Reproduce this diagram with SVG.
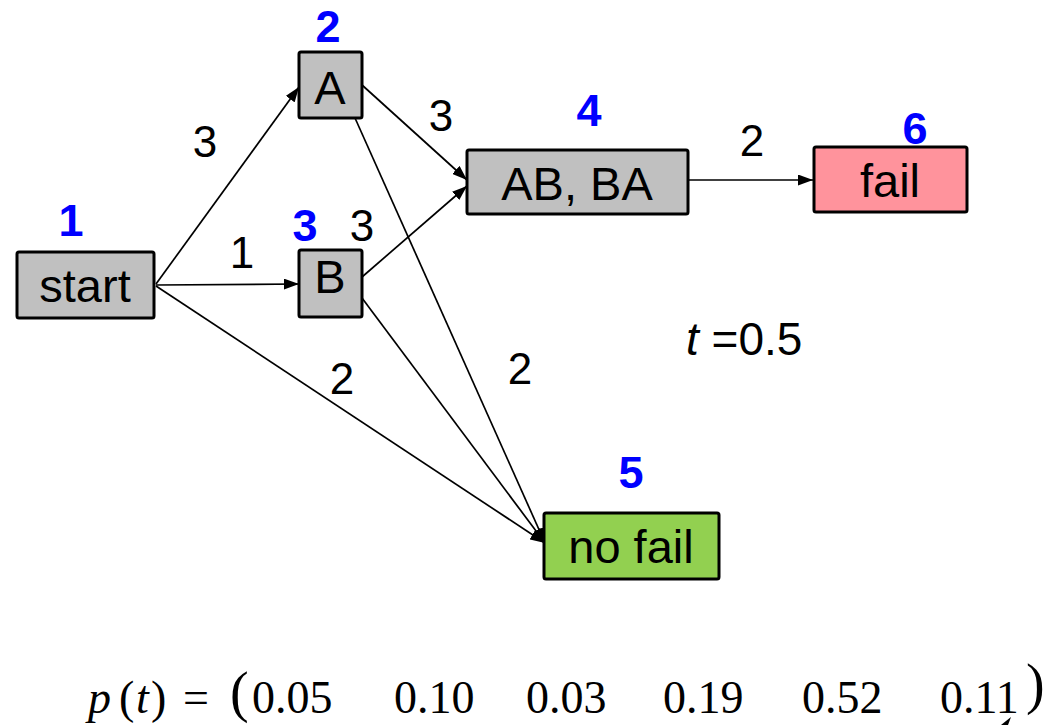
<svg xmlns="http://www.w3.org/2000/svg" width="1057" height="725" viewBox="0 0 1057 725">
  <style>
    .box { stroke: #000; stroke-width: 3; }
    .gray { fill: #c0c0c0; }
    .red { fill: #ff939c; }
    .green { fill: #92d050; }
    .lbl { font-family: "Liberation Sans", Arial, sans-serif; font-size: 47px; fill: #000; text-anchor: middle; }
    .num { font-family: "Liberation Sans", Arial, sans-serif; font-size: 45px; font-weight: bold; fill: #0000ff; text-anchor: middle; }
    .w { font-family: "Liberation Sans", Arial, sans-serif; font-size: 44px; fill: #000; text-anchor: middle; }
    .edge { stroke: #000; stroke-width: 1.7; fill: none; marker-end: url(#arrow); }
    .math { font-family: "Liberation Serif", "Times New Roman", serif; font-size: 46px; fill: #000; }
  </style>
  <defs>
    <marker id="arrow" markerUnits="userSpaceOnUse" markerWidth="15" markerHeight="11" refX="15" refY="5.5" orient="auto">
      <path d="M0,0 L15,5.5 L0,11 z" fill="#000"/>
    </marker>
  </defs>
  <rect width="1057" height="725" fill="#fff"/>

  <g id="connectors">
    <path class="edge" d="M156,284 L299,87"/>
    <path class="edge" d="M156,285 L299,284"/>
    <path class="edge" d="M156,286 L545,543"/>
    <path class="edge" d="M362,85 L467,180"/>
    <path class="edge" d="M355,118 L545,543"/>
    <path class="edge" d="M362,277 L467,186"/>
    <path class="edge" d="M362,298 L545,543"/>
    <path class="edge" d="M688,180 L813,180"/>
  </g>

  <g id="weights">
    <text class="w" x="205" y="157">3</text>
    <text class="w" x="242" y="268">1</text>
    <text class="w" x="362" y="241">3</text>
    <text class="w" x="441" y="131">3</text>
    <text class="w" x="752" y="156">2</text>
    <text class="w" x="342" y="394">2</text>
    <text class="w" x="520" y="384">2</text>
  </g>

  <g id="node-start">
    <rect class="box gray" x="17" y="252" width="137" height="66" rx="2"/>
    <text class="lbl" x="85" y="302">start</text>
    <text class="num" x="71" y="236">1</text>
  </g>
  <g id="node-A">
    <rect class="box gray" x="299" y="52" width="63" height="66" rx="2"/>
    <text class="lbl" x="330" y="104">A</text>
    <text class="num" x="328" y="42">2</text>
  </g>
  <g id="node-B">
    <rect class="box gray" x="299" y="250" width="63" height="67" rx="2"/>
    <text class="lbl" x="330" y="293">B</text>
    <text class="num" x="305" y="241">3</text>
  </g>
  <g id="node-AB">
    <rect class="box gray" x="467" y="150" width="221" height="64" rx="2"/>
    <text class="lbl" x="577" y="200">AB, BA</text>
    <text class="num" x="589" y="126">4</text>
  </g>
  <g id="node-fail">
    <rect class="box red" x="814" y="147" width="153" height="65" rx="2"/>
    <text class="lbl" x="890" y="197">fail</text>
    <text class="num" x="915" y="144">6</text>
  </g>
  <g id="node-nofail">
    <rect class="box green" x="544" y="513" width="175" height="66" rx="2"/>
    <text class="lbl" x="631" y="563">no fail</text>
    <text class="num" x="631" y="488">5</text>
  </g>

  <text id="time" font-family="Liberation Sans, Arial, sans-serif" font-size="46" x="686" y="355"><tspan font-style="italic">t</tspan> =0.5</text>

  <g id="formula" class="math">
    <text x="88" y="713" font-style="italic">p</text>
    <text x="119" y="713">(</text>
    <text x="136" y="713" font-style="italic">t</text>
    <text x="151" y="713">)</text>
    <text x="183" y="713">=</text>
    <text x="230" y="711" font-size="56">(</text>
    <text x="252" y="713">0.05</text>
    <text x="394" y="713">0.10</text>
    <text x="526" y="713">0.03</text>
    <text x="663" y="713">0.19</text>
    <text x="802" y="713">0.52</text>
    <text x="940" y="713">0.11</text>
    <text x="1026" y="703" font-size="56">)</text>
  </g>
  <path d="M1001,725 L1011,717 L1008,725 z" fill="#000"/>
</svg>
